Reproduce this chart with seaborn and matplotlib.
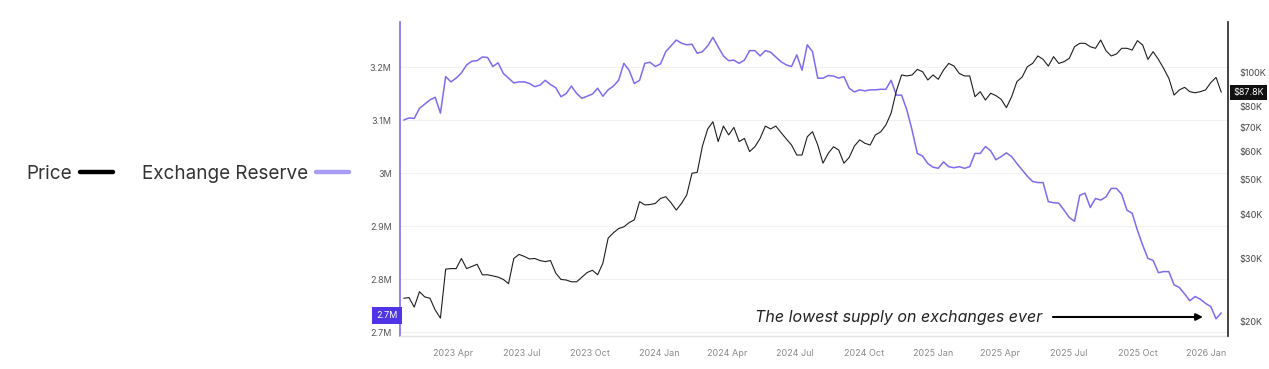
import pandas as pd
import matplotlib
matplotlib.use('Agg')
import matplotlib.pyplot as plt
import matplotlib.dates as mdates
import matplotlib.transforms as mtransforms
from matplotlib.lines import Line2D
from matplotlib.ticker import FixedLocator, FuncFormatter, NullLocator
import seaborn as sns

# ---------------- data (weekly samples) ----------------
start_date = '2023-01-25'

reserve_m = [
    3.100, 3.104, 3.103, 3.122, 3.130, 3.138, 3.143, 3.113, 3.182, 3.172,
    3.179, 3.189, 3.204, 3.211, 3.212, 3.219, 3.218, 3.201, 3.208, 3.188,
    3.179, 3.170, 3.172, 3.172, 3.169, 3.163, 3.166, 3.175, 3.167, 3.161,
    3.144, 3.150, 3.164, 3.150, 3.141, 3.145, 3.149, 3.160, 3.145, 3.157,
    3.164, 3.175, 3.207, 3.194, 3.169, 3.175, 3.207, 3.209, 3.201, 3.206,
    3.229, 3.240, 3.251, 3.245, 3.242, 3.243, 3.226, 3.229, 3.240, 3.256,
    3.238, 3.221, 3.212, 3.213, 3.207, 3.213, 3.231, 3.231, 3.221, 3.231,
    3.228, 3.219, 3.210, 3.204, 3.201, 3.223, 3.194, 3.242, 3.229,
    3.179, 3.179, 3.184, 3.183, 3.179, 3.182, 3.160, 3.153, 3.157, 3.155,
    3.157, 3.157, 3.158, 3.158, 3.175, 3.147, 3.147, 3.119, 3.081, 3.037,
    3.032, 3.018, 3.011, 3.009, 3.021, 3.012, 3.010, 3.012, 3.009, 3.012,
    3.037, 3.037, 3.050, 3.042, 3.025, 3.031, 3.038, 3.031, 3.018, 3.006,
    2.994, 2.984, 2.982, 2.982, 2.946, 2.944, 2.943, 2.930, 2.916, 2.909,
    2.958, 2.962, 2.935, 2.952, 2.949, 2.955, 2.971, 2.971, 2.960, 2.930,
    2.924, 2.892, 2.864, 2.839, 2.835, 2.812, 2.814, 2.814, 2.789, 2.784,
    2.772, 2.759, 2.767, 2.762, 2.754, 2.748, 2.725, 2.736,
]

price_k = [
    23.3, 23.4, 22.0, 24.3, 23.5, 23.3, 21.6, 20.5, 28.1, 28.2,
    28.2, 30.1, 28.2, 28.6, 29.0, 27.1, 27.1, 26.9, 26.7, 26.3,
    25.6, 30.1, 30.9, 30.5, 30.0, 30.1, 29.7, 29.5, 29.7, 27.4,
    26.3, 26.2, 25.9, 25.9, 26.7, 27.5, 27.9, 27.1, 29.2, 34.3,
    35.5, 36.5, 36.9, 37.9, 38.6, 43.4, 42.5, 42.6, 42.9, 44.3,
    44.8, 43.1, 41.1, 42.9, 45.3, 52.1, 52.4, 62.1, 69.3, 72.6,
    63.9, 70.6, 66.7, 70.0, 63.9, 65.2, 59.9, 61.8, 65.2, 70.6,
    69.3, 70.6, 67.7, 65.0, 62.5, 58.6, 58.6, 65.9, 68.1,
    62.5, 55.6, 59.2, 61.8, 60.5, 55.6, 57.7, 62.1, 64.6, 63.2,
    62.5, 66.7, 68.0, 71.1, 76.7, 88.5, 98.1, 97.5, 98.1, 101.7,
    100.2, 95.0, 98.1, 95.4, 101.3, 105.7, 103.9, 99.1, 97.5, 97.5,
    85.3, 88.1, 83.5, 87.2, 85.9, 83.9, 79.5, 85.3, 94.0, 96.8,
    103.5, 105.7, 110.9, 108.5, 103.9, 110.4, 105.7, 106.9, 109.2, 117.7,
    120.3, 120.3, 117.7, 116.5, 122.9, 114.7, 110.9, 112.3, 116.5, 116.5,
    115.2, 122.4, 119.0, 108.5, 114.0, 108.5, 102.4, 96.0, 86.2, 89.1,
    90.6, 88.1, 87.5, 88.1, 89.1, 93.4, 96.6, 87.8,
]

reserve_ticks = [2.7, 2.8, 2.9, 3.0, 3.1, 3.2]
price_ticks = [20, 30, 40, 50, 60, 70, 80, 100]
legend_labels = ['Price', 'Exchange Reserve']
annotation_text = 'The lowest supply on exchanges ever'
current_reserve = 2.732
current_reserve_label = '2.7M'
current_price = 87.8
current_price_label = '$87.8K'

dates = pd.date_range(start_date, periods=len(reserve_m), freq='7D')
df = pd.DataFrame({'date': dates, 'reserve': reserve_m, 'price': price_k})

# ---------------- style ----------------
PURPLE = '#7d6cf0'
PURPLE_LEG = '#a99df3'
BOX_PURPLE = '#4f35e6'

sns.set_style('white')
plt.rcParams['font.family'] = ['Inter', 'DejaVu Sans']

W, H = 1269, 369
fig = plt.figure(figsize=(W / 100, H / 100), dpi=100)
ax = fig.add_axes([400 / W, 1 - 336 / H, 828 / W, 314 / H])
ax2 = ax.twinx()

sns.lineplot(data=df, x='date', y='reserve', ax=ax, color=PURPLE, lw=1.1)
sns.lineplot(data=df, x='date', y='price', ax=ax2, color='#1e1e1e', lw=0.8)

# x axis
ax.set_xlim(pd.Timestamp('2023-01-20'), pd.Timestamp('2026-01-30'))
ax.xaxis.set_major_locator(mdates.MonthLocator(bymonth=[1, 4, 7, 10]))
ax.xaxis.set_major_formatter(mdates.DateFormatter('%Y %b'))
ax.tick_params(axis='x', length=4, width=0.8, color='#d6d6d6', labelsize=6.5,
               labelcolor='#8a8a8a', pad=5)
ax.set_xlabel('')

# left axis (reserve)
ax.set_ylim(2.6925, 3.285)
ax.yaxis.set_major_locator(FixedLocator(reserve_ticks))
ax.yaxis.set_major_formatter(FuncFormatter(lambda v, p: f'{v:g}M'))
ax.tick_params(axis='y', length=0, pad=6, labelsize=6.5, labelcolor='#555555')
ax.set_ylabel('')
ax.grid(axis='y', color='#f1f1f1', lw=0.8)
ax.grid(axis='x', visible=False)

# right axis (price, log)
ax2.set_yscale('log')
ax2.set_ylim(18.27, 138.0)
ax2.yaxis.set_major_locator(FixedLocator(price_ticks))
ax2.yaxis.set_minor_locator(NullLocator())
ax2.yaxis.set_major_formatter(FuncFormatter(lambda v, p: f'${v:g}K'))
ax2.tick_params(axis='y', which='both', length=0, pad=8, labelsize=6.5,
                labelcolor='#444444')
ax2.set_ylabel('')
ax2.grid(False)

# spines
for s in ['top', 'right']:
    ax.spines[s].set_visible(False)
ax.spines['left'].set_color(PURPLE)
ax.spines['left'].set_linewidth(1.2)
ax.spines['bottom'].set_color('#e3e3e3')
ax.spines['bottom'].set_linewidth(1.0)
for s in ['top', 'left', 'bottom']:
    ax2.spines[s].set_visible(False)
ax2.spines['right'].set_color('#222222')
ax2.spines['right'].set_linewidth(1.2)

# current value boxes
tr_l = mtransforms.blended_transform_factory(ax.transAxes, ax.transData)
ax.text(-0.003, current_reserve, current_reserve_label, transform=tr_l,
        ha='right', va='center', fontsize=6.5, color='white', zorder=10,
        bbox=dict(boxstyle='square,pad=0.45', fc=BOX_PURPLE, ec='none'),
        clip_on=False)
tr_r = mtransforms.blended_transform_factory(ax2.transAxes, ax2.transData)
ax2.text(1.0065, current_price, current_price_label, transform=tr_r,
         ha='left', va='center', fontsize=6.5, color='white', zorder=10,
         bbox=dict(boxstyle='square,pad=0.35', fc='#111111', ec='none'),
         clip_on=False)

# annotation
ax2.text(0.4287, 0.0605, annotation_text, transform=ax2.transAxes,
         ha='left', va='center', fontsize=11.5, style='italic', color='#222222')
ax2.annotate('', xy=(0.9698, 0.0605), xytext=(0.7886, 0.0605),
             xycoords='axes fraction', textcoords='axes fraction',
             arrowprops=dict(arrowstyle='-|>', color='black', lw=1.5,
                             mutation_scale=10, shrinkA=0, shrinkB=0))

# legend on the left
handles = [Line2D([], [], color='black', lw=3.2),
           Line2D([], [], color=PURPLE_LEG, lw=3.2)]
fig.legend(handles=handles, labels=legend_labels, loc='center left',
           bbox_to_anchor=(26 / W, 1 - 174 / H), ncol=2, frameon=False,
           markerfirst=False, fontsize=13.6, handlelength=1.75,
           handletextpad=0.45, columnspacing=1.5, borderpad=0,
           borderaxespad=0, labelcolor='#333333')

fig.savefig('out.png', dpi=100)
